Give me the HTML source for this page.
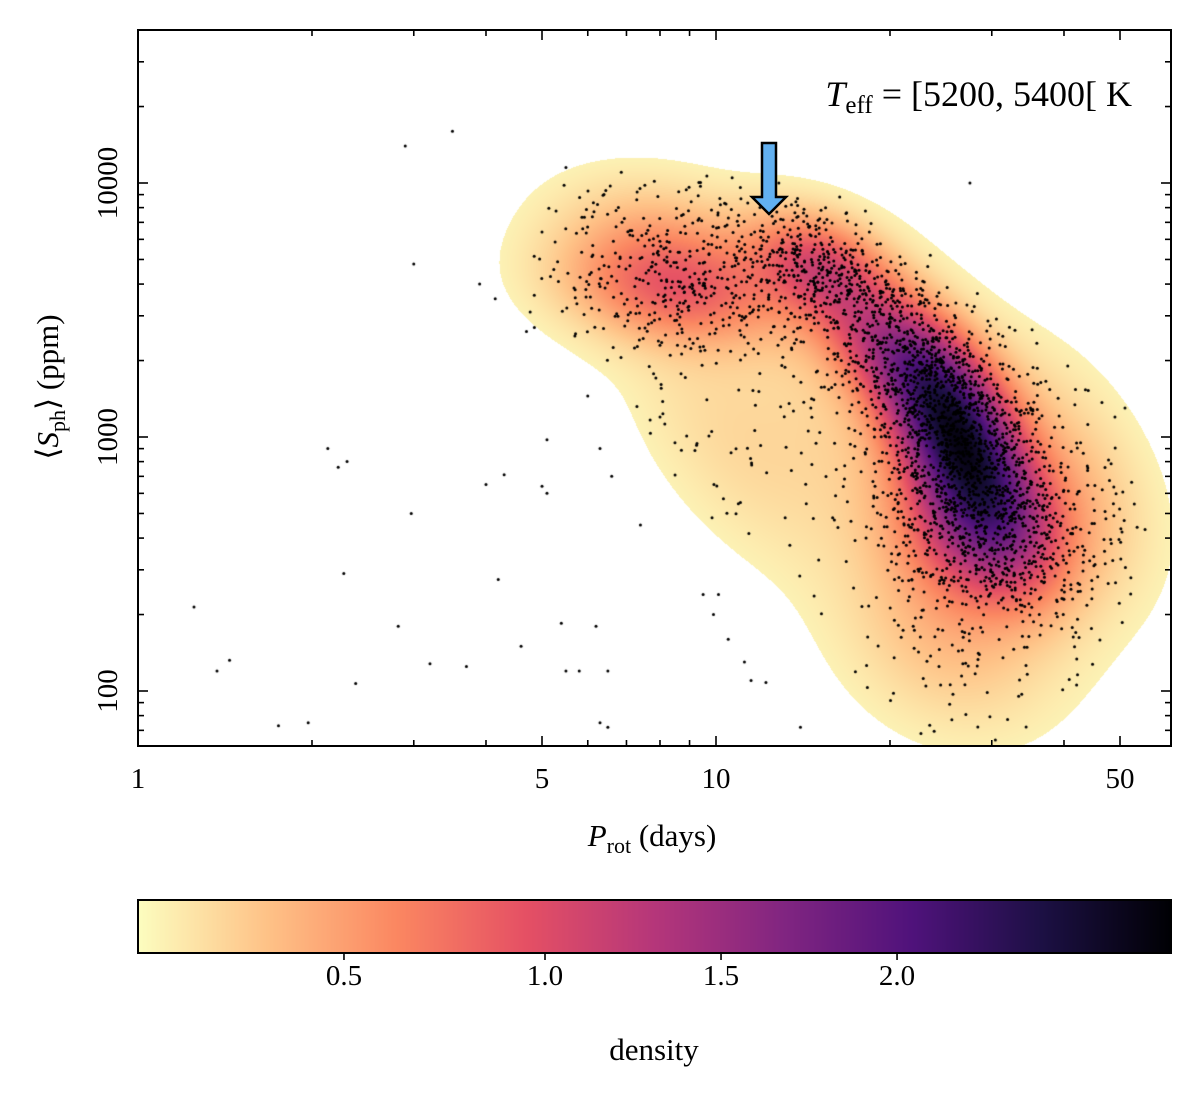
<!DOCTYPE html>
<html><head><meta charset="utf-8">
<style>
html,body{margin:0;padding:0;background:#fff;}
#wrap{position:relative;width:1200px;height:1100px;font-family:"Liberation Serif",serif;}
canvas{position:absolute;left:0;top:0;}
svg{position:absolute;left:0;top:0;}
text{font-family:"Liberation Serif",serif;fill:#000;}
</style></head>
<body>
<div id="wrap">
<canvas id="dens" width="1200" height="1100"></canvas>
<svg id="ax" width="1200" height="1100"></svg>
</div>
<script>
// ---- data ----
const xMajorTicks=[1,5,10,50];
const xMinorTicks=[2,3,4,6,7,8,9,20,30,40];
const yMajorTicks=[100,1000,10000];
const yMinorTicks=[70,80,90,200,300,400,500,600,700,800,900,2000,3000,4000,5000,6000,7000,8000,9000,20000,30000,40000];
// density components: log10 P centre, log10 S centre, amplitude, sigmaU, sigmaV, rho, number of stars
const compU=[1.42,0.93,1.18,1.30,1.46,1.30,0.90,1.40,1.62,1.02,1.52];
const compV=[2.99,3.58,3.68,3.35,2.60,2.95,3.80,2.20,2.80,2.95,3.20];
const compAmp=[2.25,0.75,0.85,0.80,0.85,0.22,0.30,0.28,0.25,0.12,0.09];
const compSU=[0.085,0.13,0.08,0.09,0.10,0.22,0.12,0.12,0.09,0.12,0.10];
const compSV=[0.28,0.15,0.14,0.18,0.20,0.45,0.16,0.25,0.25,0.32,0.20];
const compRho=[-0.55,-0.2,-0.3,-0.5,-0.2,-0.55,-0.2,-0.2,-0.3,-0.6,-0.3];
const compN=[1250,320,330,320,420,220,110,120,90,50,30];
// explicit outlier stars (P days, S ppm)
const outP=[1.25,1.37,1.44,1.75,1.97,2.13,2.22,2.3,2.27,2.38,2.82,2.9,2.97,3.0,3.2,3.5,3.7,3.9,4.0,4.15,4.2,4.3,4.6,4.7,4.85,5.0,5.1,5.1,5.4,5.5,5.8,5.7,6.0,6.2,6.3,6.3,6.5,6.5,6.6,7.4,8.0,9.5,9.9,10.1,10.5,11.2,11.5,12.2,14,27.5,49,51,5.5,6.4,7.1];
const outS=[214,120,132,73,75,900,760,800,290,107,180,14000,500,4800,128,16000,125,4000,650,3500,275,710,150,2600,2700,640,975,600,185,120,120,2500,1450,180,900,75,72,120,700,450,1200,240,200,240,160,130,110,108,72,10000,1200,1300,11500,9000,6500];
// colorbar
const cbTickVals=[0.5,1.0,1.5,2.0];
const cbKnotD=[0,0.5,1.0,1.5,2.0,2.78];
const cbKnotF=[0,0.1994,0.394,0.5644,0.7348,1];

// ---- geometry ----
const X0=138,X1=1171,Y0=30,Y1=746;
const xPerDec=578, yPerDec=254;
function xs(p){return X0+Math.log10(p)*xPerDec;}
function ys(s){return 437-(Math.log10(s)-3)*yPerDec;}
function uOfX(x){return (x-X0)/xPerDec;}
function vOfY(y){return 3-(y-437)/yPerDec;}
const CB0=138,CB1=1171,CBY0=900,CBY1=953;
function cbFrac(d){
  if(d<=cbKnotD[0])return 0;
  for(let i=1;i<cbKnotD.length;i++){if(d<=cbKnotD[i]){const t=(d-cbKnotD[i-1])/(cbKnotD[i]-cbKnotD[i-1]);return cbKnotF[i-1]+t*(cbKnotF[i]-cbKnotF[i-1]);}}
  return 1;
}
const magma=[[0,[0,0,4]],[0.125,[28,16,68]],[0.25,[79,18,123]],[0.375,[129,37,129]],[0.5,[181,54,122]],[0.625,[229,80,100]],[0.75,[251,135,97]],[0.875,[254,194,135]],[1,[252,253,191]]];
function cmap(t){t=Math.max(0,Math.min(1,t));for(let i=1;i<magma.length;i++){if(t<=magma[i][0]){const a=magma[i-1],b=magma[i];const f=(t-a[0])/(b[0]-a[0]);return a[1].map((c,k)=>Math.round(c+f*(b[1][k]-c)));}}return magma[8][1];}
function density(u,v){
  let d=0;
  for(let i=0;i<compU.length;i++){
    const a=(u-compU[i])/compSU[i], b=(v-compV[i])/compSV[i], r=compRho[i];
    d+=compAmp[i]*Math.exp(-(a*a-2*r*a*b+b*b)/(2*(1-r*r)));
  }
  return d;
}
const ctx=document.getElementById('dens').getContext('2d');
const W=X1-X0,H=Y1-Y0;
const img=ctx.createImageData(W,H);
for(let y=0;y<H;y++){const v=vOfY(Y0+y+0.5);for(let x=0;x<W;x++){const u=uOfX(X0+x+0.5);const d=density(u,v);const o=(y*W+x)*4;
  if(d<0.06){img.data[o]=255;img.data[o+1]=255;img.data[o+2]=255;}else{const c=cmap(1-cbFrac(d));img.data[o]=c[0];img.data[o+1]=c[1];img.data[o+2]=c[2];}
  img.data[o+3]=255;}}
ctx.putImageData(img,X0,Y0);
// colorbar gradient
const cimg=ctx.createImageData(CB1-CB0,CBY1-CBY0);
for(let x=0;x<CB1-CB0;x++){const c=cmap(1-x/(CB1-CB0));for(let y=0;y<CBY1-CBY0;y++){const o=(y*(CB1-CB0)+x)*4;cimg.data[o]=c[0];cimg.data[o+1]=c[1];cimg.data[o+2]=c[2];cimg.data[o+3]=255;}}
ctx.putImageData(cimg,CB0,CBY0);
// stars
let seed=12345;function rnd(){seed=(seed*1103515245+12345)%2147483648;return seed/2147483648;}
function gauss(){const a=rnd()||1e-9,b=rnd();return Math.sqrt(-2*Math.log(a))*Math.cos(2*Math.PI*b);}
ctx.fillStyle='#000';
ctx.save();ctx.beginPath();ctx.rect(X0,Y0,W,H);ctx.clip();
function dot(x,y){ctx.beginPath();ctx.arc(x,y,1.5,0,2*Math.PI);ctx.fill();}
for(let i=0;i<compU.length;i++){for(let k=0;k<compN[i];k++){const z1=gauss(),z2=gauss();const u=compU[i]+compSU[i]*z1;const v=compV[i]+compSV[i]*(compRho[i]*z1+Math.sqrt(1-compRho[i]**2)*z2);
  if(density(u,v)<0.07)continue;dot(xs(Math.pow(10,u)),ys(Math.pow(10,v)));}}
for(let i=0;i<outP.length;i++)dot(xs(outP[i]),ys(outS[i]));
ctx.restore();

// ---- axes SVG ----
const svg=document.getElementById('ax');const NS='http://www.w3.org/2000/svg';
function el(tag,attrs,parent){const e=document.createElementNS(NS,tag);for(const k in attrs)e.setAttribute(k,attrs[k]);(parent||svg).appendChild(e);return e;}
const frame=el('rect',{x:X0,y:Y0,width:W,height:H,fill:'none',stroke:'#000','stroke-width':2});


function tick(x1,y1,x2,y2){const t=el('line',{x1,y1,x2,y2,stroke:'#000','stroke-width':1.6});}
xMajorTicks.forEach(p=>{const x=xs(p);tick(x,Y1,x,Y1-10);tick(x,Y0,x,Y0+10);
  const t=el('text',{x:x,y:788,'font-size':29,'text-anchor':'middle'});t.textContent=p;});
xMinorTicks.forEach(p=>{const x=xs(p);tick(x,Y1,x,Y1-6);tick(x,Y0,x,Y0+6);});
yMajorTicks.forEach(s=>{const y=ys(s);tick(X0,y,X0+10,y);tick(X1,y,X1-10,y);
  const t=el('text',{x:0,y:0,'font-size':29,'text-anchor':'middle',transform:`translate(117,${y}) rotate(-90)`});t.textContent=s;});
yMinorTicks.forEach(s=>{const y=ys(s);if(y<Y0||y>Y1)return;tick(X0,y,X0+6,y);tick(X1,y,X1-6,y);});
// axis titles
let t=el('text',{x:652,y:846,'font-size':31,'text-anchor':'middle'});
t.innerHTML='<tspan font-style="italic">P</tspan><tspan font-size="22" dy="7">rot</tspan><tspan dy="-7"> (days)</tspan>';

t=el('text',{x:0,y:0,'font-size':31,'text-anchor':'middle',transform:'translate(58,387) rotate(-90)'});
t.innerHTML='⟨<tspan font-style="italic">S</tspan><tspan font-size="22" dy="7">ph</tspan><tspan dy="-7">⟩ (ppm)</tspan>';

t=el('text',{x:1132,y:106,'font-size':36,'text-anchor':'end'});
t.innerHTML='<tspan font-style="italic">T</tspan><tspan font-size="25" dy="7">eff</tspan><tspan dy="-7"> = [5200, 5400[ K</tspan>';

const arr=el('path',{d:'M762,143 L776,143 L776,197 L786,197 L769,214 L752,197 L762,197 Z',fill:'#62b0f0',stroke:'#000','stroke-width':2.5,'stroke-linejoin':'miter'});

// colorbar
const cb=el('rect',{x:CB0,y:CBY0,width:CB1-CB0,height:CBY1-CBY0,fill:'none',stroke:'#000','stroke-width':2});

cbTickVals.forEach(d=>{const x=CB0+cbFrac(d)*(CB1-CB0);tick(x,CBY1,x,CBY1+7);
  const tt=el('text',{x:x,y:985,'font-size':29,'text-anchor':'middle'});tt.textContent=d.toFixed(1);});
t=el('text',{x:654,y:1060,'font-size':31,'text-anchor':'middle'});t.textContent='density';

</script>
</body></html>
